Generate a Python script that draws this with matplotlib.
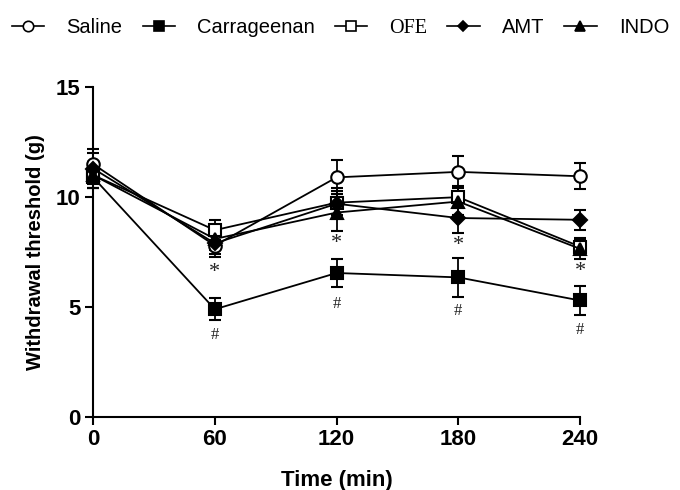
import matplotlib.pyplot as plt
from matplotlib.lines import Line2D

time = [0, 60, 120, 180, 240]

saline = [11.5, 7.8, 10.9, 11.15, 10.95]
saline_err = [0.7, 0.5, 0.77, 0.7, 0.6]
carra = [10.9, 4.9, 6.55, 6.35, 5.3]
carra_err = [0.5, 0.5, 0.65, 0.9, 0.65]
ofe = [11.0, 8.5, 9.75, 10.0, 7.75]
ofe_err = [0.6, 0.45, 0.55, 0.5, 0.4]
amt = [11.3, 7.9, 9.7, 9.05, 8.97]
amt_err = [0.7, 0.5, 0.7, 0.7, 0.45]
indo = [11.0, 8.1, 9.3, 9.8, 7.65]
indo_err = [0.6, 0.5, 0.85, 0.6, 0.45]

star_t = [60, 120, 180, 240]
star_y = [6.55, 7.9, 7.8, 6.6]
hash_t = [60, 120, 180, 240]
hash_y = [3.75, 5.15, 4.8, 3.95]

plt.rcParams['font.family'] = ['Liberation Sans', 'DejaVu Sans']

fig = plt.figure(figsize=(6.8, 4.9), dpi=100)
ax = fig.add_axes([0.137, 0.149, 0.716, 0.673])

series = [
    ('Saline', saline, saline_err, 'o', 'white', 9),
    ('Carrageenan', carra, carra_err, 's', 'black', 9),
    ('OFE', ofe, ofe_err, 's', 'white', 9),
    ('AMT', amt, amt_err, 'D', 'black', 7),
    ('INDO', indo, indo_err, '^', 'black', 9),
]

for name, y, e, m, fc, ms in series:
    ax.errorbar(time, y, yerr=e, color='black', lw=1.3, marker=m, ms=ms,
                mfc=fc, mec='black', mew=1.5, capsize=4.5, capthick=1.3,
                elinewidth=1.3, clip_on=False, zorder=3)

for t, v in zip(star_t, star_y):
    ax.text(t, v, '*', ha='center', va='center', fontsize=16, family='Liberation Serif', color='#222222')
for t, v in zip(hash_t, hash_y):
    ax.text(t, v, '#', ha='center', va='center', fontsize=12, family='Liberation Serif', color='#222222')

ax.set_xlim(0, 240)
ax.set_ylim(0, 15)
ax.set_xticks(time)
ax.set_yticks([0, 5, 10, 15])
ax.spines['top'].set_visible(False)
ax.spines['right'].set_visible(False)
ax.spines['left'].set_linewidth(1.5)
ax.spines['bottom'].set_linewidth(1.5)
ax.tick_params(width=1.5, length=6, labelsize=16, pad=3)
for lb in ax.get_xticklabels() + ax.get_yticklabels():
    lb.set_fontweight('bold')
ax.set_xlabel('Time (min)', fontsize=16, fontweight='bold', labelpad=14)
ax.set_ylabel('Withdrawal threshold (g)', fontsize=14.5, fontweight='bold', labelpad=8)

handles = []
for name, y, e, m, fc, ms in series:
    handles.append(Line2D([], [], color='black', lw=1.2, marker=m, ms=ms - 1.5,
                          mfc=fc, mec='black', mew=1.2))
leg = fig.legend(handles, [s[0] for s in series], loc='center left',
                 bbox_to_anchor=(12 / 680, 1 - 28 / 490), ncol=5, frameon=False,
                 fontsize=14.5, handlelength=1.6, handletextpad=1.1,
                 columnspacing=1.0, borderaxespad=0, borderpad=0)
leg.get_texts()[2].set_family('Liberation Serif')

fig.savefig('out.png', dpi=100)
